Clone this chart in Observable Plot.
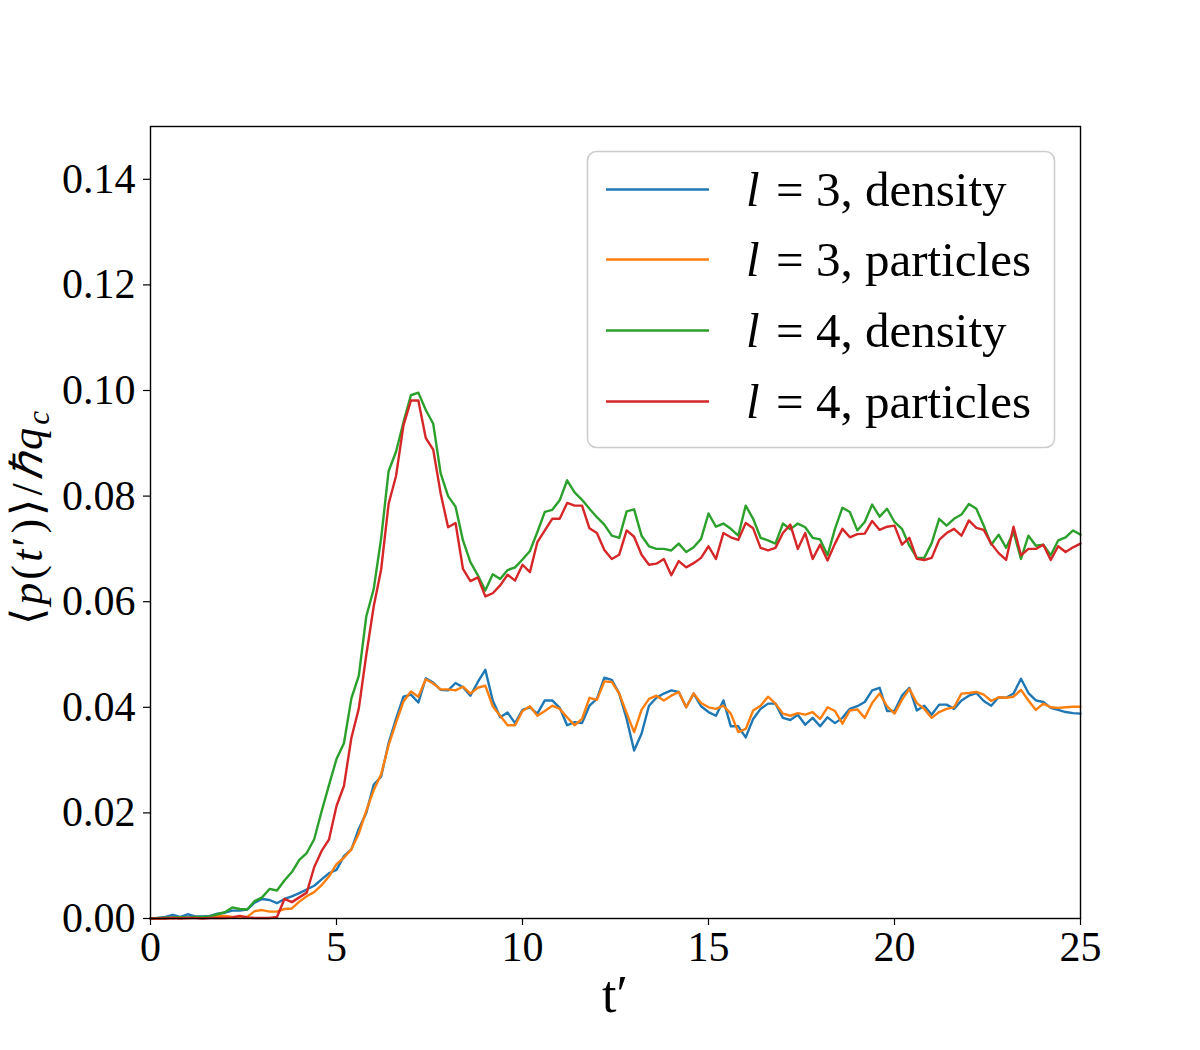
<!DOCTYPE html>
<html><head><meta charset="utf-8">
<script src="https://cdn.jsdelivr.net/npm/d3@7"></script>
<script src="https://cdn.jsdelivr.net/npm/@observablehq/plot@0.6"></script>
<style>html,body{margin:0;padding:0;background:#fff}</style>
</head><body><div id="chart"></div>
<script>
const tValues = [0,0.2,0.4,0.6,0.8,1,1.2,1.4,1.6,1.8,2,2.2,2.4,2.6,2.8,3,3.2,3.4,3.6,3.8,4,4.2,4.4,4.6,4.8,5,5.2,5.4,5.6,5.8,6,6.2,6.4,6.6,6.8,7,7.2,7.4,7.6,7.8,8,8.2,8.4,8.6,8.8,9,9.2,9.4,9.6,9.8,10,10.2,10.4,10.6,10.8,11,11.2,11.4,11.6,11.8,12,12.2,12.4,12.6,12.8,13,13.2,13.4,13.6,13.8,14,14.2,14.4,14.6,14.8,15,15.2,15.4,15.6,15.8,16,16.2,16.4,16.6,16.8,17,17.2,17.4,17.6,17.8,18,18.2,18.4,18.6,18.8,19,19.2,19.4,19.6,19.8,20,20.2,20.4,20.6,20.8,21,21.2,21.4,21.6,21.8,22,22.2,22.4,22.6,22.8,23,23.2,23.4,23.6,23.8,24,24.2,24.4,24.6,24.8,25];

const l3Density = [0,0.0001,0.0003,0.0007,0.0003,0.0008,0.0004,0.0004,0.0005,0.0009,0.0011,0.0015,0.0015,0.0017,0.0030,0.0037,0.0035,0.0029,0.0037,0.0042,0.0048,0.0055,0.0062,0.0074,0.0086,0.0092,0.0118,0.0131,0.0170,0.0200,0.0253,0.0269,0.0332,0.0378,0.0420,0.0424,0.0409,0.0455,0.0447,0.0433,0.0432,0.0446,0.0438,0.0422,0.0448,0.0471,0.0413,0.0381,0.0390,0.0370,0.0395,0.0400,0.0388,0.0413,0.0413,0.0399,0.0366,0.0372,0.0370,0.0403,0.0416,0.0456,0.0452,0.0426,0.0378,0.0318,0.0350,0.0403,0.0418,0.0426,0.0432,0.0429,0.0400,0.0426,0.0402,0.0391,0.0384,0.0413,0.0364,0.0364,0.0343,0.0378,0.0397,0.0407,0.0407,0.0380,0.0376,0.0386,0.0367,0.0380,0.0364,0.0381,0.0370,0.0380,0.0397,0.0402,0.0410,0.0432,0.0437,0.0393,0.0393,0.0422,0.0437,0.0394,0.0403,0.0386,0.0405,0.0405,0.0397,0.0413,0.0422,0.0427,0.0412,0.0403,0.0419,0.0418,0.0426,0.0454,0.0427,0.0413,0.0410,0.0399,0.0395,0.0391,0.0389,0.0388];

const l3Particles = [0,0,0.0001,0.0001,0.0002,0.0001,0.0002,0.0002,0.0003,0.0005,0.0005,0.0003,0.0003,0.0003,0.0014,0.0016,0.0013,0.0013,0.0018,0.0019,0.0032,0.0042,0.0050,0.0063,0.0080,0.0103,0.0115,0.0131,0.0161,0.0204,0.0243,0.0273,0.0328,0.0371,0.0411,0.0430,0.0420,0.0453,0.0445,0.0434,0.0434,0.0432,0.0439,0.0426,0.0437,0.0441,0.0402,0.0384,0.0366,0.0366,0.0393,0.0402,0.0384,0.0393,0.0403,0.0397,0.0381,0.0366,0.0378,0.0418,0.0414,0.0449,0.0448,0.0426,0.0389,0.0353,0.0395,0.0416,0.0422,0.0413,0.0422,0.0429,0.0400,0.0426,0.0408,0.0400,0.0397,0.0403,0.0388,0.0353,0.0359,0.0394,0.0403,0.0420,0.0407,0.0388,0.0384,0.0389,0.0386,0.0391,0.0378,0.0400,0.0393,0.0369,0.0394,0.0396,0.0380,0.0408,0.0426,0.0402,0.0388,0.0414,0.0435,0.0408,0.0397,0.0380,0.0391,0.0397,0.0400,0.0426,0.0427,0.0429,0.0424,0.0412,0.0419,0.0418,0.0420,0.0433,0.0413,0.0395,0.0407,0.0400,0.0399,0.0400,0.0401,0.0401];

const l4Density = [0,0.0001,0.0001,0.0002,0.0002,0.0002,0.0003,0.0003,0.0004,0.0008,0.0012,0.0021,0.0018,0.0017,0.0033,0.0040,0.0056,0.0053,0.0072,0.0088,0.0111,0.0124,0.0150,0.0203,0.0253,0.0302,0.0332,0.0417,0.0460,0.0572,0.0624,0.0720,0.0847,0.0884,0.0940,0.0991,0.0996,0.0963,0.0937,0.0843,0.0800,0.0780,0.0716,0.0675,0.0650,0.0621,0.0652,0.0643,0.0660,0.0665,0.0680,0.0696,0.0732,0.0770,0.0774,0.0792,0.0830,0.0807,0.0793,0.0776,0.0760,0.0746,0.0725,0.0721,0.0771,0.0775,0.0725,0.0705,0.0700,0.0700,0.0697,0.0710,0.0694,0.0703,0.0719,0.0767,0.0742,0.0748,0.0738,0.0725,0.0782,0.0757,0.0721,0.0716,0.0710,0.0748,0.0737,0.0748,0.0741,0.0721,0.0718,0.0688,0.0738,0.0778,0.0770,0.0735,0.0751,0.0784,0.0761,0.0776,0.0751,0.0738,0.0706,0.0683,0.0683,0.0711,0.0757,0.0744,0.0757,0.0765,0.0785,0.0776,0.0744,0.0708,0.0727,0.0702,0.0732,0.0681,0.0725,0.0706,0.0708,0.0688,0.0716,0.0722,0.0735,0.0727];

const l4Particles = [0,0,0,0.0001,0,0.0001,0.0001,0,0.0001,0.0001,0.0001,0.0002,0.0005,0.0002,0.0001,0.0001,0.0001,0.0003,0.0037,0.0031,0.0040,0.0049,0.0097,0.0128,0.0150,0.0213,0.0251,0.0342,0.0398,0.0499,0.0591,0.0661,0.0785,0.0838,0.0934,0.0981,0.0981,0.0910,0.0888,0.0805,0.0741,0.0749,0.0662,0.0639,0.0646,0.0610,0.0616,0.0631,0.0651,0.0640,0.0670,0.0656,0.0713,0.0735,0.0757,0.0757,0.0787,0.0782,0.0782,0.0739,0.0730,0.0698,0.0681,0.0689,0.0735,0.0723,0.0689,0.0670,0.0672,0.0681,0.0650,0.0677,0.0665,0.0673,0.0683,0.0705,0.0681,0.0730,0.0722,0.0717,0.0749,0.0739,0.0702,0.0697,0.0702,0.0730,0.0746,0.0700,0.0730,0.0681,0.0708,0.0678,0.0710,0.0738,0.0722,0.0728,0.0729,0.0753,0.0736,0.0742,0.0744,0.0708,0.0721,0.0681,0.0679,0.0683,0.0717,0.0730,0.0738,0.0725,0.0754,0.0740,0.0736,0.0710,0.0692,0.0679,0.0742,0.0688,0.0700,0.0700,0.0708,0.0679,0.0705,0.0694,0.0703,0.0710];

const seriesL = ["3", "3", "4", "4"];
const seriesKind = ["density", "particles", "density", "particles"];
const seriesColors = ["#1f77b4", "#ff7f0e", "#2ca02c", "#d62728"];
const xTicks = [0, 5, 10, 15, 20, 25];
const yTicks = [0, 0.02, 0.04, 0.06, 0.08, 0.10, 0.12, 0.14];

const allSeries = [l3Density, l3Particles, l4Density, l4Particles];
const tables = allSeries.map(vals => vals.map((v, j) => ({t: tValues[j], v})));

const FONT = "'Liberation Serif', 'Times New Roman', serif";

const chart = Plot.plot({
  width: 1200, height: 1050,
  marginLeft: 150, marginRight: 120, marginTop: 126, marginBottom: 132,
  style: {fontFamily: FONT, background: "white", color: "black", overflow: "visible"},
  x: {domain: [0, 25]},
  y: {domain: [0, 0.15]},
  marks: [
    ...tables.map((tb, i) => Plot.line(tb, {x: "t", y: "v", stroke: seriesColors[i], strokeWidth: 2.4})),
    Plot.frame({stroke: "black", strokeWidth: 1.4}),
    Plot.axisX({ticks: xTicks, tickSize: 7, tickPadding: 6, fontSize: 42, label: null, tickFormat: d => String(d), stroke: "black", strokeWidth: 1.2}),
    Plot.axisY({ticks: yTicks, tickSize: 7, tickPadding: 8, fontSize: 42, label: null, tickFormat: d3.format(".2f"), stroke: "black", strokeWidth: 1.2})
  ]
});
document.getElementById("chart").appendChild(chart);

const svg = d3.select(chart);

// x label
svg.append("text")
  .attr("x", 615).attr("y", 1012)
  .attr("text-anchor", "middle")
  .attr("font-family", FONT).attr("font-size", 52).attr("fill", "black")
  .text("t\u2032");

// y label
const yl = svg.append("text")
  .attr("transform", "translate(42,518) rotate(-90)")
  .attr("text-anchor", "middle")
  .attr("textLength", 214).attr("lengthAdjust", "spacing")
  .attr("font-family", FONT).attr("font-size", 44).attr("fill", "black");
yl.append("tspan").text("\u27e8");
yl.append("tspan").attr("font-style", "italic").text("p");
yl.append("tspan").text("(");
yl.append("tspan").attr("font-style", "italic").text("t");
yl.append("tspan").text("\u2032)\u27e9/");
yl.append("tspan").attr("font-style", "italic").text("\u210fq");
yl.append("tspan").attr("font-style", "italic").attr("font-size", 31).attr("dy", 7).text("c");

// legend
const lg = svg.append("g").attr("text-anchor", "start");
lg.append("rect")
  .attr("x", 587.5).attr("y", 151.5).attr("width", 467).attr("height", 296)
  .attr("rx", 9).attr("fill", "white").attr("fill-opacity", 0.8)
  .attr("stroke", "#cccccc").attr("stroke-width", 1.5);
const rowY = [189.5, 259.5, 330.5, 401.5];
seriesL.forEach((lv, i) => {
  lg.append("line").attr("x1", 606).attr("x2", 709).attr("y1", rowY[i]).attr("y2", rowY[i])
    .attr("stroke", seriesColors[i]).attr("stroke-width", 2.4);
  const base = rowY[i] + 16;
  const common = t => t.attr("y", base).attr("text-anchor", "start")
    .attr("font-family", FONT).attr("font-size", 49).attr("fill", "black");
  common(lg.append("text")).attr("x", 746).attr("font-style", "italic").text("l");
  common(lg.append("text")).attr("x", 776).text("=");
  common(lg.append("text")).attr("x", 816).text(lv + ", " + seriesKind[i]);
});
</script>
</body></html>
